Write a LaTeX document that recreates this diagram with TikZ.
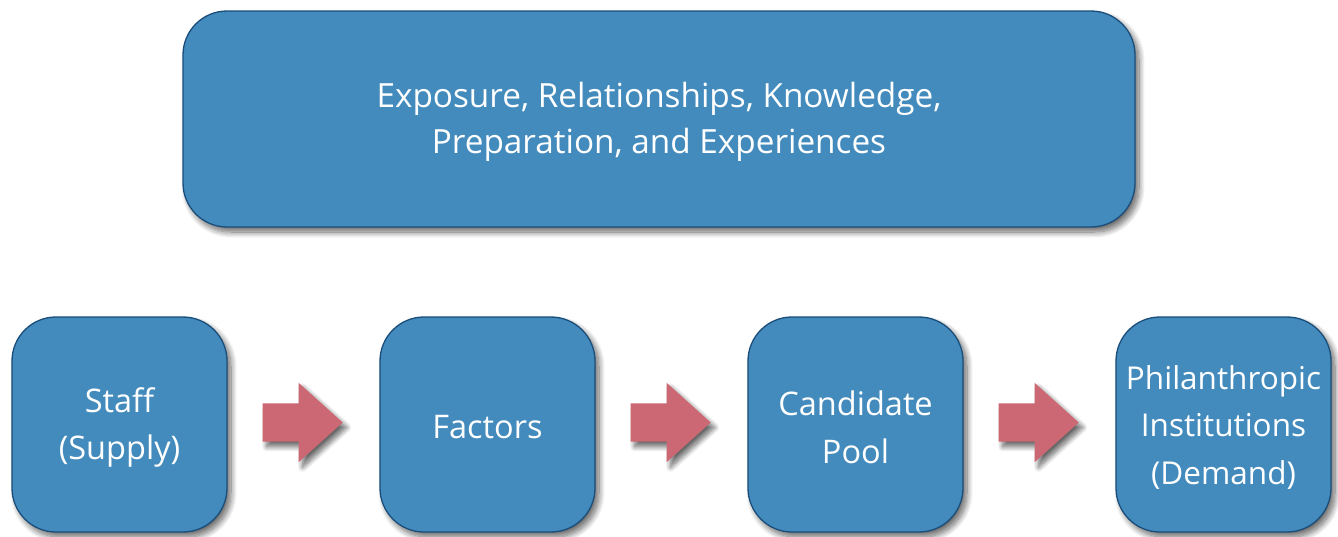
\documentclass[tikz,border=0pt]{standalone}
\usepackage{fontspec}
\setmainfont{Open Sans}
\usetikzlibrary{shapes.arrows,shadows.blur,calc}
\definecolor{boxfill}{HTML}{438BBD}
\definecolor{boxline}{HTML}{1A4D7A}
\definecolor{arrowfill}{HTML}{CC6873}
\tikzset{
  boxshadow/.style={blur shadow={shadow xshift=4pt, shadow yshift=-5pt, shadow blur radius=6pt, shadow opacity=60, shadow blur steps=12}},
  bluebox/.style={draw=boxline, line width=1.3pt, fill=boxfill, rounded corners=44pt,
    inner sep=0pt, boxshadow},
  boxtext/.style={text=white, align=center, font=\fontsize{32.5}{47.5}\selectfont, inner sep=0pt},
  flowarrow/.style={single arrow, fill=arrowfill, draw=none, inner xsep=0pt, inner ysep=19pt,
    minimum height=80pt, single arrow head extend=20.5pt, single arrow tip angle=84, anchor=tail,
    blur shadow={shadow xshift=4pt, shadow yshift=-5pt, shadow blur radius=5pt, shadow opacity=60, shadow blur steps=10}},
}
\begin{document}
\begin{tikzpicture}[x=1pt,y=-1pt]
\useasboundingbox (0,0) rectangle (1338,536);
\node[bluebox, minimum width=952pt, minimum height=216pt] (top) at (659,119) {};
\node[bluebox, minimum width=215pt, minimum height=215pt] (staff) at (119.5,424.5) {};
\node[bluebox, minimum width=215pt, minimum height=215pt] (factors) at (487.5,424.5) {};
\node[bluebox, minimum width=215pt, minimum height=215pt] (pool) at (855.5,424.5) {};
\node[bluebox, minimum width=215pt, minimum height=215pt] (phil) at (1223.5,424.5) {};
\node[boxtext, font=\fontsize{33.3}{46}\selectfont] (toptext) at ($(top.center)+(0,2.5)$)
  {Exposure, Relationships, Knowledge,\\Preparation, and Experiences};
\node[boxtext] (stafftext) at ($(staff.center)+(0,3)$) {Staff\\(Supply)};
\node[boxtext] (factorstext) at ($(factors.center)+(0,3)$) {Factors};
\node[boxtext] (pooltext) at ($(pool.center)+(0,3)$) {Candidate\\Pool};
\node[boxtext, font=\fontsize{31.5}{47.5}\selectfont] (philtext) at ($(phil.center)+(0,3)$) {Philanthropic\\Institutions\\(Demand)};
\node[flowarrow] (a1) at ($(staff.east)!0.5!(factors.west)+(-41,-2)$) {};
\node[flowarrow] (a2) at ($(factors.east)!0.5!(pool.west)+(-41,-2)$) {};
\node[flowarrow] (a3) at ($(pool.east)!0.5!(phil.west)+(-41,-2)$) {};
\end{tikzpicture}
\end{document}
